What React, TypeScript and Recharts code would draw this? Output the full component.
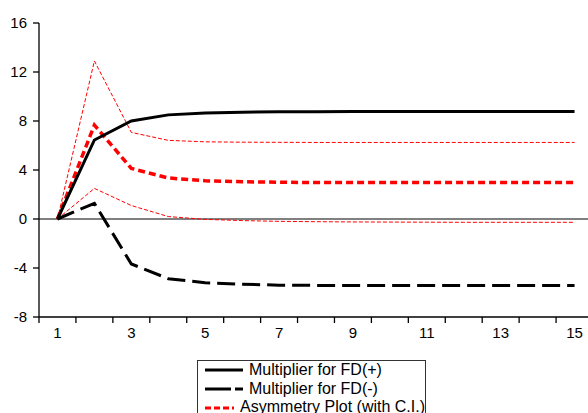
import React from 'react';
import { LineChart, Line, XAxis, YAxis, ReferenceLine, Legend } from 'recharts';

const periods = [1, 2, 3, 4, 5, 6, 7, 8, 9, 10, 11, 12, 13, 14, 15];
const fdPos = [0, 6.45, 8.0, 8.5, 8.65, 8.72, 8.75, 8.76, 8.77, 8.77, 8.77, 8.77, 8.77, 8.77, 8.77];
const fdNeg = [0, 1.28, -3.67, -4.87, -5.2, -5.33, -5.4, -5.42, -5.43, -5.43, -5.43, -5.43, -5.43, -5.43, -5.43];
const asym = [0, 7.67, 4.13, 3.35, 3.12, 3.04, 3.0, 2.98, 2.98, 2.97, 2.97, 2.97, 2.97, 2.97, 2.97];
const upperCI = [0, 12.9, 7.07, 6.42, 6.3, 6.27, 6.26, 6.25, 6.25, 6.25, 6.25, 6.25, 6.25, 6.25, 6.25];
const lowerCI = [0, 2.5, 1.1, 0.2, -0.03, -0.13, -0.19, -0.22, -0.24, -0.25, -0.26, -0.27, -0.27, -0.27, -0.27];

const xBoundaryTicks = [0.5, 1.5, 2.5, 3.5, 4.5, 5.5, 6.5, 7.5, 8.5, 9.5, 10.5, 11.5, 12.5, 13.5, 14.5, 15.5];
const yTicks = [-8, -4, 0, 4, 8, 12, 16];

const legendEntries = [
  { label: 'Multiplier for FD(+)', color: '#000000', width: 3, dash: undefined as string | undefined },
  { label: 'Multiplier for FD(-)', color: '#000000', width: 3, dash: '26 4' },
  { label: 'Asymmetry Plot (with C.I.)', color: '#ff0000', width: 3, dash: '6 3' },
];

const data = periods.map((p, i) => ({
  t: p,
  pos: fdPos[i],
  neg: fdNeg[i],
  asym: asym[i],
  up: upperCI[i],
  lo: lowerCI[i],
}));

const FONT = '"Liberation Sans", Arial, sans-serif';
const CHART_W = 593;
const Y_W = 39;
const HALF_BAND = (CHART_W - Y_W) / periods.length / 2;

const XTick = (props: any) => {
  const { x, y, payload } = props;
  const v = payload.value + 0.5;
  if (v > periods[periods.length - 1] || v % 2 === 0) return null;
  return (
    <text x={x + HALF_BAND} y={y} dy="0.71em" textAnchor="middle" fill="#000" fontSize={15} fontFamily={FONT}>
      {v}
    </text>
  );
};

const LegendBox = () => (
  <div
    style={{
      border: '1px solid #333',
      width: 229,
      height: 64,
      boxSizing: 'border-box',
      paddingTop: 0,
      fontFamily: FONT,
      fontSize: 16,
      color: '#000',
      background: '#fff',
    }}
  >
    {legendEntries.map((e) => (
      <div key={e.label} style={{ display: 'flex', alignItems: 'center', height: 18.7, lineHeight: '18.7px' }}>
        <svg width={38} height={6} style={{ marginLeft: 7, marginRight: 6 }}>
          <line x1={0} y1={3} x2={38} y2={3} stroke={e.color} strokeWidth={e.width} strokeDasharray={e.dash} />
        </svg>
        <span style={{ whiteSpace: 'nowrap' }}>{e.label}</span>
      </div>
    ))}
  </div>
);

export default function App() {
  return (
    <div style={{ position: 'absolute', left: 0, top: 0, width: 588, height: 413, overflow: 'hidden', background: '#fff' }}>
      <LineChart
        width={CHART_W}
        height={413}
        data={data}
        margin={{ top: 23, right: 0, bottom: 66, left: 0 }}
      >
        <XAxis
          dataKey="t"
          type="number"
          domain={[0.5, 15.5]}
          ticks={xBoundaryTicks}
          tick={<XTick />}
          tickSize={6}
          tickMargin={4}
          height={30}
          interval={0}
          axisLine={{ stroke: '#000', strokeWidth: 1.3 }}
          tickLine={{ stroke: '#000', strokeWidth: 1.3 }}
        />
        <YAxis
          domain={[-8, 16]}
          ticks={yTicks}
          width={Y_W}
          tickSize={6}
          tickMargin={6}
          interval={0}
          axisLine={{ stroke: '#000', strokeWidth: 1.3 }}
          tickLine={{ stroke: '#000', strokeWidth: 1.3 }}
          tick={{ fill: '#000', fontSize: 15, fontFamily: FONT }}
        />
        <ReferenceLine y={0} stroke="#808080" strokeWidth={2} />
        <Line dataKey="up" stroke="#ff0000" strokeWidth={1} strokeDasharray="4 2" dot={false} isAnimationActive={false} legendType="none" />
        <Line dataKey="lo" stroke="#ff0000" strokeWidth={1} strokeDasharray="4 2" dot={false} isAnimationActive={false} legendType="none" />
        <Line dataKey="asym" stroke="#ff0000" strokeWidth={3.5} strokeDasharray="7 4" dot={false} isAnimationActive={false} />
        <Line dataKey="neg" stroke="#000000" strokeWidth={3} strokeDasharray="18 7" dot={false} isAnimationActive={false} />
        <Line dataKey="pos" stroke="#000000" strokeWidth={3} dot={false} isAnimationActive={false} />
        <Legend
          layout="vertical"
          align="center"
          verticalAlign="middle"
          content={() => <LegendBox />}
          wrapperStyle={{ left: 197, top: 360, width: 229 }}
        />
      </LineChart>
    </div>
  );
}
